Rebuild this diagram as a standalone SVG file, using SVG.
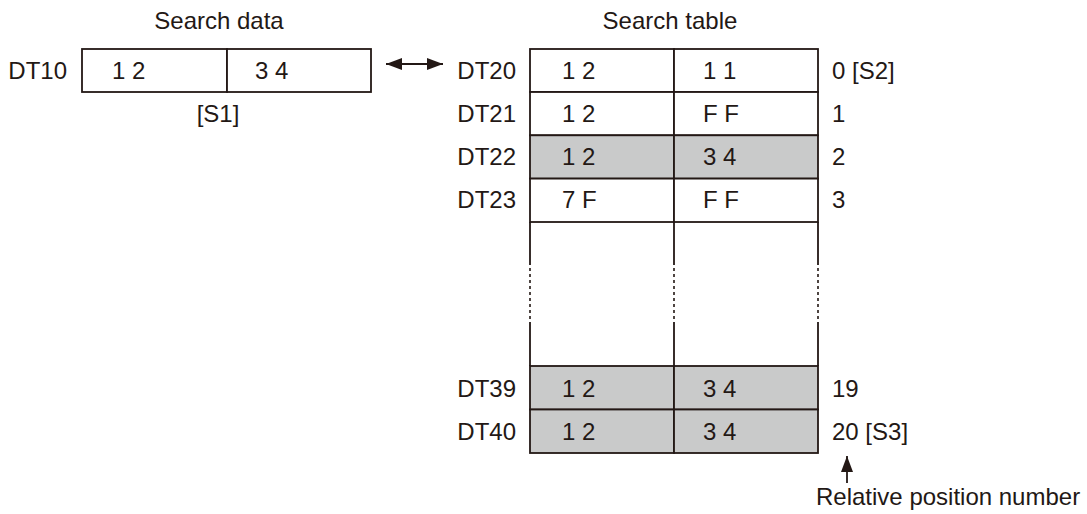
<svg xmlns="http://www.w3.org/2000/svg" width="1087" height="514" viewBox="0 0 1087 514">
<style>
text{font-family:"Liberation Sans",Arial,sans-serif;font-size:24px;fill:#231815}
.c{fill:#ffffff;stroke:#231815;stroke-width:1.8}
.g{fill:#c9caca;stroke:#231815;stroke-width:1.8}
.ln{stroke:#231815;stroke-width:1.8;fill:none}
.ds{stroke:#231815;stroke-width:1.6;fill:none;stroke-dasharray:3 3}
.e{text-anchor:end}
.m{text-anchor:middle}
</style>
<defs>
<marker id="ah" viewBox="0 0 16 12" refX="16" refY="6" markerWidth="16" markerHeight="12" markerUnits="userSpaceOnUse" orient="auto-start-reverse">
<path d="M0,0 L16,6 L0,12 z" fill="#231815"/>
</marker>
</defs>
<rect width="1087" height="514" fill="#ffffff"/>

<g id="search-data">
<text class="m" x="219" y="29">Search data</text>
<text class="e" x="67" y="79">DT10</text>
<rect class="c" x="82" y="49" width="145" height="43"/>
<rect class="c" x="227" y="49" width="144" height="43"/>
<text x="112" y="79">1 2</text>
<text x="255" y="79">3 4</text>
<text class="m" x="218" y="122">[S1]</text>
</g>

<g id="search-table">
<text class="m" x="670" y="29">Search table</text>
<g id="row-dt20">
<rect class="c" x="530" y="49" width="144" height="43"/>
<rect class="c" x="674" y="49" width="144" height="43"/>
<text class="e" x="516" y="79">DT20</text>
<text x="562" y="79">1 2</text>
<text x="703" y="79">1 1</text>
<text x="832" y="79">0 [S2]</text>
</g>
<g id="row-dt21">
<rect class="c" x="530" y="92" width="144" height="43.3"/>
<rect class="c" x="674" y="92" width="144" height="43.3"/>
<text class="e" x="516" y="122">DT21</text>
<text x="562" y="122">1 2</text>
<text x="703" y="122">F F</text>
<text x="832" y="122">1</text>
</g>
<g id="row-dt22">
<rect class="g" x="530" y="135.3" width="144" height="43.3"/>
<rect class="g" x="674" y="135.3" width="144" height="43.3"/>
<text class="e" x="516" y="165">DT22</text>
<text x="562" y="165">1 2</text>
<text x="703" y="165">3 4</text>
<text x="832" y="165">2</text>
</g>
<g id="row-dt23">
<rect class="c" x="530" y="178.6" width="144" height="43.4"/>
<rect class="c" x="674" y="178.6" width="144" height="43.4"/>
<text class="e" x="516" y="208">DT23</text>
<text x="562" y="208">7 F</text>
<text x="703" y="208">F F</text>
<text x="832" y="208">3</text>
</g>
<g id="row-gap">
<path class="ln" d="M530,222V265M674,222V265M818,222V265M530,322V366M674,322V366M818,322V366"/>
<path class="ds" d="M530,268V320M674,268V320M818,268V320"/>
</g>
<g id="row-dt39">
<rect class="g" x="530" y="366" width="144" height="43.5"/>
<rect class="g" x="674" y="366" width="144" height="43.5"/>
<text class="e" x="516" y="397">DT39</text>
<text x="562" y="397">1 2</text>
<text x="703" y="397">3 4</text>
<text x="832" y="397">19</text>
</g>
<g id="row-dt40">
<rect class="g" x="530" y="409.5" width="144" height="43.5"/>
<rect class="g" x="674" y="409.5" width="144" height="43.5"/>
<text class="e" x="516" y="440">DT40</text>
<text x="562" y="440">1 2</text>
<text x="703" y="440">3 4</text>
<text x="832" y="440">20 [S3]</text>
</g>
</g>

<g id="relative-label">
<text x="816" y="505">Relative position number</text>
</g>

<g id="connectors">
<path class="ln" d="M386,64H443" marker-start="url(#ah)" marker-end="url(#ah)"/>
<path class="ln" d="M847,483V456" marker-end="url(#ah)"/>
</g>
</svg>
